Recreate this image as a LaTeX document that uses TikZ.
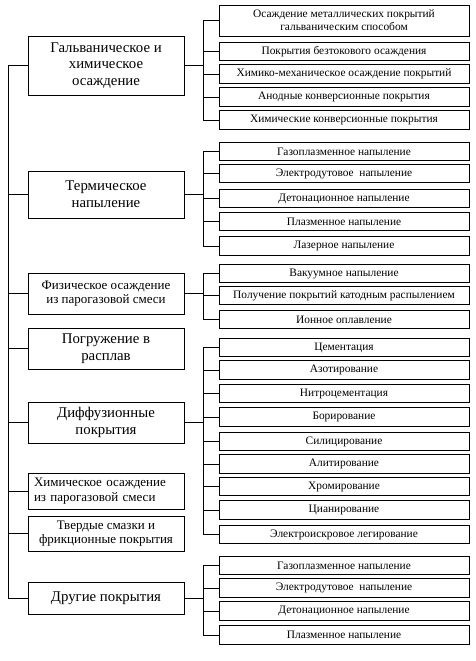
\documentclass[tikz,border=0pt]{standalone}
\usepackage{fontspec}
\setmainfont{Liberation Serif}
\usepackage{tikz}
\usetikzlibrary{positioning,calc}

\tikzset{
  mainbox/.style={draw=black, line width=0.8pt, minimum width=156pt, align=center,
    inner sep=1pt, font=\fontsize{14.8}{16.7}\selectfont},
  midbox/.style={mainbox, font=\fontsize{13}{14.5}\selectfont},
  subbox/.style={draw=black, line width=0.8pt, minimum width=250pt, minimum height=18.5pt,
    align=center, inner sep=0.5pt, font=\fontsize{11.4}{13}\selectfont}
}

\begin{document}
\begin{tikzpicture}[x=1pt, y=-1pt, line width=0.8pt]
  \useasboundingbox (0,0) rectangle (476,661);
  \coordinate (spine) at (8,0);
  \coordinate (fork) at (203,0);

  % main branches
  \node[mainbox, minimum height=59pt] (galv) at (106,65.5) {Гальваническое и\\химическое\\осаждение};
  \node[mainbox, minimum height=47pt] (term) at (106,194.5) {Термическое\\напыление};
  \node[midbox, minimum height=41pt] (fiz) at (106,293.5) {Физическое осаждение\\из парогазовой смеси};
  \node[mainbox, minimum height=41pt] (pogr) at (106,348.5) {Погружение в\\расплав};
  \node[mainbox, minimum height=41pt] (diff) at (106,422.5) {Диффузионные\\покрытия};
  \node[midbox, minimum height=36pt, text width=144pt, inner xsep=6pt, align=left] (him) at (106,491) {Химическое осаждение\\из парогазовой смеси};
  \node[midbox, minimum height=35pt] (tverd) at (106,533.5) {Твердые смазки и\\фрикционные покрытия};
  \node[mainbox, minimum height=32pt] (drug) at (106,598) {Другие покрытия};

  % sub branches
  \node[subbox, minimum height=31pt] (galvA) at (344,20.5) {Осаждение металлических покрытий\\гальваническим способом};
  \foreach \n/\y/\t in {galvB/51.5/Покрытия безтокового осаждения,
                       galvC/74/Химико-механическое осаждение покрытий,
                       galvD/97/Анодные конверсионные покрытия,
                       galvE/120/Химические конверсионные покрытия,
                       termA/151.5/Газоплазменное напыление,
                       termB/173.5/Электродутовое\ \ напыление,
                       termC/198.5/Детонационное напыление,
                       termD/221.5/Плазменное напыление,
                       termE/246/Лазерное напыление,
                       fizA/273.5/Вакуумное напыление,
                       fizB/295.5/Получение покрытий катодным распылением,
                       fizC/319.5/Ионное оплавление,
                       diffA/347.5/Цементация,
                       diffB/370/Азотирование,
                       diffC/393.5/Нитроцементация,
                       diffD/417/Борирование,
                       diffE/441.5/Силицирование,
                       diffF/464/Алитирование,
                       diffG/486.5/Хромирование,
                       diffH/510/Цианирование,
                       diffI/534.5/Электроискровое легирование,
                       drugA/565.5/Газоплазменное напыление,
                       drugB/588/Электродутовое\ \ напыление,
                       drugC/611/Детонационное напыление,
                       drugD/635/Плазменное напыление}
    \node[subbox] (\n) at (344,\y) {\t};

  % main spine
  \foreach \g in {galv,term,fiz,pogr,diff,him,tverd,drug}
    \draw (\g.west) -- (\g.west -| spine);
  \draw (galv.west -| spine) -- (drug.west -| spine);

  % forks
  \foreach \g/\first/\last in {galv/galvA/galvE, term/termA/termE, fiz/fizA/fizC,
                               diff/diffA/diffI, drug/drugA/drugD} {
    \draw (\g.east) -- (\g.east -| fork);
    \draw (\first.west -| fork) -- (\last.west -| fork);
  }
  \foreach \s in {galvA,galvB,galvC,galvD,galvE,termA,termB,termC,termD,termE,
                  fizA,fizB,fizC,diffA,diffB,diffC,diffD,diffE,diffF,diffG,diffH,diffI,
                  drugA,drugB,drugC,drugD}
    \draw (\s.west) -- (\s.west -| fork);
\end{tikzpicture}
\end{document}
